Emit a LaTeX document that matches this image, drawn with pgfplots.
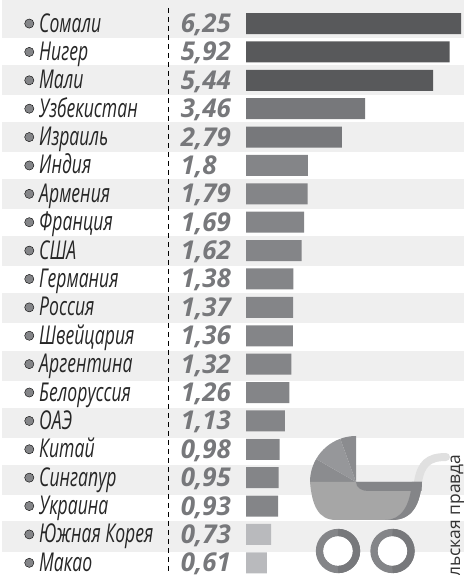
\documentclass[border=0pt]{standalone}
\usepackage{pgfplots}
\usepackage{pgfplotstable}
\usepackage{fontspec}
\pgfplotsset{compat=1.18}
\setmainfont{Open Sans}
\newfontfamily\namefont[FakeStretch=0.68]{Open Sans}
\newfontfamily\valfont{Open Sans}
\definecolor{band}{HTML}{EFEFEF}
\definecolor{cA}{HTML}{58595B}
\definecolor{cB}{HTML}{77787B}
\definecolor{cC}{HTML}{848588}
\definecolor{cD}{HTML}{B9BABD}
\definecolor{cVal}{HTML}{77787B}
\pgfplotstableread{
i val txt
0 6.25 6,25
1 5.92 5,92
2 5.44 5,44
3 3.46 3,46
4 2.79 2,79
5 1.8 1,8
6 1.79 1,79
7 1.69 1,69
8 1.62 1,62
9 1.38 1,38
10 1.37 1,37
11 1.36 1,36
12 1.32 1,32
13 1.26 1,26
14 1.13 1,13
15 0.98 0,98
16 0.95 0,95
17 0.93 0,93
18 0.73 0,73
19 0.61 0,61
}\datatable
\pgfplotstableread{
i val
0 6.25
1 5.92
2 5.44
}\darkrows
\pgfplotstableread{
i val
3 3.46
4 2.79
}\midrows
\pgfplotstableread{
i val
5 1.8
6 1.79
7 1.69
8 1.62
9 1.38
10 1.37
11 1.36
12 1.32
13 1.26
14 1.13
15 0.98
16 0.95
17 0.93
}\lightrows
\pgfplotstableread{
i val
18 0.73
19 0.61
}\palerows
\begin{document}
\begin{tikzpicture}
\path[use as bounding box] (0,0) rectangle (464bp,575bp);
\begin{scope}[x=1bp,y=-1bp,yshift=575bp]
\foreach \a/\b in {0/38,65/95,122/152,179/209,236/266,293/323,351/381,408/438,465/495,521/552}
  \fill[band] (2,\a) rectangle (464,\b);
\draw[black,line width=0.9bp,dash pattern=on 5bp off 4bp] (168,8) -- (168,575);
\end{scope}
\begin{axis}[
  at={(0,0)}, anchor=south west,
  scale only axis, width=464bp, height=575bp,
  xmin=-7.151, xmax=6.337,
  ymin=-0.83, ymax=19.43, y dir=reverse,
  axis line style={draw=none},
  xtick=\empty,
  ytick={0,...,19},
  yticklabels={Сомали,Нигер,Мали,Узбекистан,Израиль,Индия,Армения,Франция,США,Германия,Россия,Швейцария,Аргентина,Белоруссия,ОАЭ,Китай,Сингапур,Украина,Южная Корея,Макао},
  major tick length=0pt,
  yticklabel style={anchor=base west,xshift=39bp,yshift=-8.5bp,inner sep=0pt,font=\namefont\itshape\fontsize{26}{26}\selectfont,text=black!85},
  clip=false,
  xbar, bar width=21bp, bar shift=0pt,
]
\addplot[draw=none,fill=cA] table[x=val,y=i]{\darkrows};
\addplot[draw=none,fill=cB] table[x=val,y=i]{\midrows};
\addplot[draw=none,fill=cC] table[x=val,y=i]{\lightrows};
\addplot[draw=none,fill=cD] table[x=val,y=i]{\palerows};
\addplot[xbar=false,only marks,mark=*,mark size=4.6bp,mark options={draw=none,fill=cC}]
  table[x expr=-6.3,y=i]{\datatable};
\addplot[xbar=false,only marks,mark=none,point meta=explicit symbolic,
  nodes near coords,
  every node near coord/.style={anchor=base west,yshift=-9bp,inner sep=0pt,text=cVal,font=\valfont\bfseries\itshape\fontsize{26}{26}\selectfont}]
  table[x expr=-1.9,y=i,meta=txt]{\datatable};
\end{axis}
\begin{scope}[x=1bp,y=-1bp,yshift=575bp]
\fill[cB!85!white] (356,482) -- (310,482) arc[start angle=-180,end angle=-150,radius=46] -- cycle;
\fill[cC!85!white] (356,482) -- ({356+46*cos(150)},{482-46*sin(150)}) arc[start angle=-150,end angle=-110,radius=46] -- cycle;
\fill[cB!85!white] (356,482) -- ({356+46*cos(110)},{482-46*sin(110)}) arc[start angle=-110,end angle=-90,radius=46] -- cycle;
\draw[line width=8bp,line cap=round,color=black!12] (418,482) .. controls (421,464) and (428,457) .. (446,457);
\fill[black!35] (310,482) -- (422,482) .. controls (420,505) and (412,520) .. (392,520) -- (336,520) .. controls (318,520) and (312,505) .. (310,482) -- cycle;
\fill[cC] (356,482) -- (422,482) -- (421.5,491) -- (368,491) .. controls (362,491) and (356,488) .. (356,482) -- cycle;
\fill[cC] (422,482) .. controls (420,505) and (412,520) .. (392,520) -- (385,520) .. controls (402,520) and (410,505) .. (412,482) -- cycle;
\foreach \c in {338,392.5}{
  \draw[line width=7.5bp,color=cC] (\c,551) circle[radius=18.4];
  \draw[line width=7.5bp,color=cB] (\c,532.6) arc[start angle=-90,end angle=90,radius=18.4];
  \fill[white] (\c,551) circle[radius=14.6];
}
\node[rotate=90,anchor=base west,inner sep=0pt,text=black!80,font=\fontsize{17.5}{17.5}\selectfont] at (460,577) {льская правда};
\end{scope}
\end{tikzpicture}
\end{document}
